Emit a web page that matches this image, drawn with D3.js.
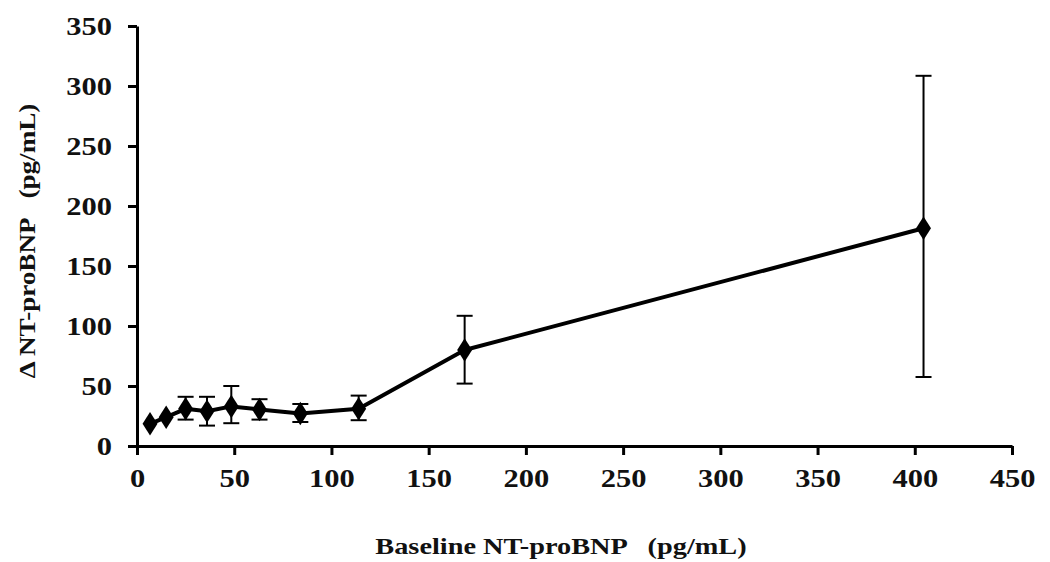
<!DOCTYPE html>
<html>
<head>
<meta charset="utf-8">
<script src="https://cdn.jsdelivr.net/npm/d3@7"></script>
<style>
  html, body { margin: 0; padding: 0; background: #fff; }
  svg text { font-family: "Liberation Serif", "Times New Roman", serif; font-weight: bold; fill: #111; white-space: pre; }
</style>
</head>
<body>
<svg id="chart" width="1050" height="562"></svg>
<script>
// Data
const baseline = [6.7, 15, 25, 36, 48.5, 63, 84, 114, 168.5, 404.5];
const delta    = [18.5, 24, 31, 29, 33, 30.5, 27, 31, 80, 181.5];
const errUp    = [0, 0, 10, 12, 17, 8.5, 8, 11, 28.5, 127];
const errDown  = [0, 0, 9, 12, 14, 8.5, 7, 9.5, 28, 124];
const xTicks = [0, 50, 100, 150, 200, 250, 300, 350, 400, 450];
const yTicks = [0, 50, 100, 150, 200, 250, 300, 350];
const xTitle = "Baseline NT-proBNP   (pg/mL)";
const yTitle = "\u0394 NT-proBNP   (pg/mL)";

const svg = d3.select("#chart");
const x = d3.scaleLinear().domain([0, 450]).range([137, 1012]);
const y = d3.scaleLinear().domain([0, 350]).range([446, 26]);

function stretch(sel, k) {
  sel.each(function () {
    const w = this.getComputedTextLength();
    d3.select(this).attr("textLength", w * k).attr("lengthAdjust", "spacingAndGlyphs");
  });
}

// Axes
const xAxis = svg.append("g").attr("transform", `translate(0,${y(0)})`)
  .call(d3.axisBottom(x).tickValues(xTicks).tickSize(9).tickSizeOuter(0).tickPadding(14));
const yAxis = svg.append("g").attr("transform", `translate(${x(0)},0)`)
  .call(d3.axisLeft(y).tickValues(yTicks).tickSize(9).tickSizeOuter(0).tickPadding(16));

[xAxis, yAxis].forEach(g => {
  g.select(".domain").attr("stroke", "#000").attr("stroke-width", 3);
  g.selectAll(".tick line").attr("stroke", "#000").attr("stroke-width", 3);
  g.selectAll(".tick text").style("font-size", "25px").attr("fill", "#111");
  stretch(g.selectAll(".tick text"), 1.22);
});
xAxis.selectAll(".tick text").attr("dy", "0.71em");

// Error bars
const pts = baseline.map((b, i) => ({ x: b, y: delta[i], up: errUp[i], dn: errDown[i] }));
const eb = svg.append("g").attr("stroke", "#000").attr("stroke-width", 2);
pts.filter(d => d.up > 0 || d.dn > 0).forEach(d => {
  eb.append("line").attr("x1", x(d.x)).attr("x2", x(d.x)).attr("y1", y(d.y + d.up)).attr("y2", y(d.y - d.dn));
  eb.append("line").attr("x1", x(d.x) - 8).attr("x2", x(d.x) + 8).attr("y1", y(d.y + d.up)).attr("y2", y(d.y + d.up));
  eb.append("line").attr("x1", x(d.x) - 8).attr("x2", x(d.x) + 8).attr("y1", y(d.y - d.dn)).attr("y2", y(d.y - d.dn));
});

// Line
const line = d3.line().x(d => x(d.x)).y(d => y(d.y));
svg.append("path").datum(pts).attr("d", line)
  .attr("fill", "none").attr("stroke", "#000").attr("stroke-width", 4).attr("stroke-linejoin", "round");

// Markers
svg.append("g").selectAll("path").data(pts).join("path")
  .attr("d", d3.symbol().type(d3.symbolDiamond).size(160))
  .attr("transform", d => `translate(${x(d.x)},${y(d.y)}) scale(1.1,1)`)
  .attr("fill", "#000");

// Titles
const xt = svg.append("text").attr("x", 561).attr("y", 554).attr("text-anchor", "middle")
  .style("font-size", "24px").text(xTitle);
stretch(xt, 1.18);
const yt = svg.append("text").attr("transform", `translate(35,241) rotate(-90)`).attr("text-anchor", "middle")
  .style("font-size", "24px").text(yTitle);
stretch(yt, 1.13);
</script>
</body>
</html>
